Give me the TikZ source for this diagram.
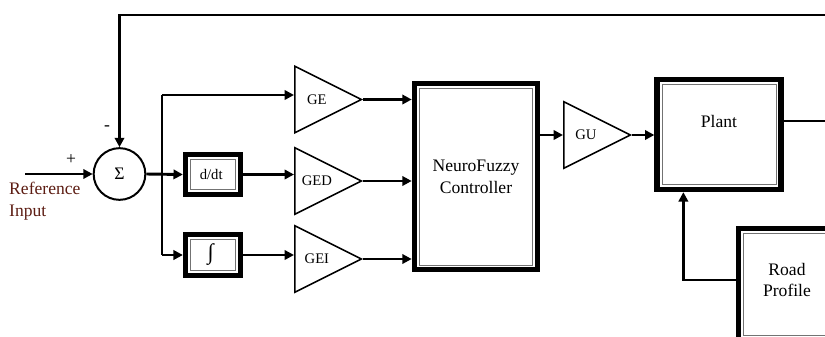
\documentclass[tikz,border=0pt]{standalone}
\usepackage{fontspec}
\setmainfont{Liberation Serif}
\usetikzlibrary{arrows.meta, shapes.geometric, calc}
\definecolor{refbrown}{RGB}{92,28,18}

\begin{document}
\begin{tikzpicture}[
  x=0.03cm, y=-0.03cm,
  font=\rmfamily\fontsize{15}{18.5}\selectfont,
  box/.style={draw, fill=white, line width=4.5pt, outer sep=2.25pt,
              inner sep=0pt, align=center,
              path picture={\draw[black!55, line width=0.7pt]
                ([shift={(4.2pt,-4.2pt)}]path picture bounding box.north west)
                rectangle
                ([shift={(-4.2pt,4.2pt)}]path picture bounding box.south east);}},
  gain/.style={draw, isosceles triangle, isosceles triangle stretches,
               shape border rotate=0, line width=1.3pt, inner sep=0pt,
               minimum width=2cm, minimum height=2cm, anchor=west},
  glbl/.style={font=\rmfamily\fontsize{12.5}{14}\selectfont, inner sep=0pt},
  sumc/.style={draw, circle, line width=1.7pt, minimum size=1.55cm, inner sep=0pt},
  line/.style={line width=2.5pt},
  arr/.style={-{Triangle[length=8pt,width=8pt]}, line width=2.5pt},
  sgn/.style={inner sep=0pt},
]

  \useasboundingbox (0,0) rectangle (825,336);
  \clip (0,0) rectangle (825,336);

  \def\xG{294}     % gain column (base of triangles)
  \def\xBr{162}    % branch line

  % --- Summing junction and input ---
  \node[sumc] (sum) at (119.5,174) {Σ};
  \coordinate (refIn) at (25,174);
  \draw[arr] (refIn) -- (sum.west);
  \node[sgn] (plus) at (71,160) {+};
  \node[sgn] (minus) at (107,128) {-};
  \node[text=refbrown, align=left, anchor=north west, inner sep=0pt]
    (refT) at (9,182) {Reference\\Input};

  % --- Error paths ---
  \node[box, minimum width=1.65cm, minimum height=1.2cm] (ddt) at (213,174.5)
    {\fontsize{12.5}{14}\selectfont d/dt\hspace{3pt}};
  \node[box, minimum width=1.65cm, minimum height=1.23cm] (int) at (213,255)
    {\fontsize{19}{20}\selectfont ∫\hspace{4pt}};

  \coordinate (brTop) at (\xBr,95);
  \coordinate (brBot) at (\xBr,255);
  \draw[arr] (sum.east) -- (ddt.west);
  \draw[line] (brTop) -- (brBot);

  % --- Gains ---
  \node[gain] (ge)  at (\xG,99.5) {};
  \node[gain] (ged) at (\xG,181) {};
  \node[gain] (gei) at (\xG,259) {};
  \node[glbl] (geT)  at ($(ge.west)!0.33!(ge.apex)$) {GE};
  \node[glbl] (gedT) at ($(ged.west)!0.33!(ged.apex)$) {GED};
  \node[glbl] (geiT) at ($(gei.west)!0.33!(gei.apex)$) {GEI};

  \draw[arr] (brTop) -- (brTop -| ge.west);
  \draw[arr] (ddt.east) -- (ddt.east -| ged.west);
  \draw[arr] (brBot) -- (int.west);
  \draw[arr] (int.east) -- (int.east -| gei.west);

  % --- Controller ---
  \node[box, minimum width=3.7cm, minimum height=5.6cm] (nf) at (476,176.5)
    {NeuroFuzzy\\Controller};
  \draw[arr] (ge.apex) -- (ge.apex -| nf.west);
  \draw[arr] (ged.apex) -- (ged.apex -| nf.west);
  \draw[arr] (gei.apex) -- (gei.apex -| nf.west);

  \node[gain] (gu) at (563,135) {};
  \node[glbl] (guT) at ($(gu.west)!0.33!(gu.apex)$) {GU};
  \draw[arr] (gu.west -| nf.east) -- (gu.west);

  % --- Plant and road ---
  \node[box, minimum width=3.72cm, minimum height=3.3cm] (plant) at (719,134.5) {};
  \node[inner sep=0pt] (plantT) at (719,121) {Plant};
  \draw[arr] (gu.apex) -- (gu.apex -| plant.west);

  \node[box, minimum width=3.3cm, minimum height=3.35cm] (road) at (793.6,284) {};
  \node[align=center, inner sep=0pt] (roadT) at (787,280) {Road\\Profile};
  \draw[arr] (road.west |- roadT) -| ([xshift=0.87cm]plant.south west);

  % --- Feedback ---
  \coordinate (fbTop) at (870,15);
  \draw[arr] (plant.east |- plantT) -| (fbTop) -| (sum.north);
\end{tikzpicture}
\end{document}
